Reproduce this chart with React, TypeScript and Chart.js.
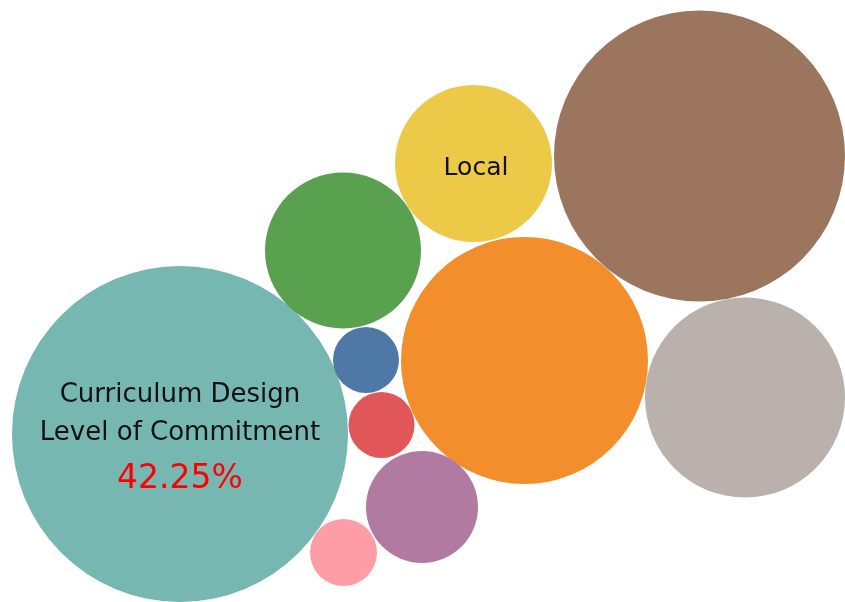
import React, { useEffect, useRef } from "react";
import { Chart, registerables } from "chart.js";

Chart.register(...registerables);

// Packed-bubble layout (Tableau style): one bubble per category
const categories = [
  "Curriculum Design",
  "Category B",
  "Category C",
  "Category D",
  "Local",
  "Category F",
  "Category G",
  "Category H",
  "Category I",
  "Category J",
];
const bubbleX = [180, 699.5, 524.5, 745, 473.5, 343, 422, 366, 381.5, 343.5];
const bubbleY = [434, 156, 360.5, 397.5, 163.5, 250.5, 507, 360, 425, 552.5];
const bubbleR = [168, 145.5, 123.5, 100, 78.5, 78, 56, 33, 33, 33.5];
const palette = [
  "#76B7B2",
  "#9C755F",
  "#F28E2B",
  "#BAB0AC",
  "#EDC948",
  "#59A14F",
  "#B07AA1",
  "#4E79A7",
  "#E15759",
  "#FF9DA7",
];
const labelLines: Record<string, string[]> = {
  "Curriculum Design": ["Curriculum Design", "Level of Commitment"],
  Local: ["Local"],
};
const highlightValue = "42.25%";

const labelPlugin = {
  id: "bubbleLabels",
  afterDatasetsDraw(chart: any) {
    const ctx = chart.ctx;
    const meta = chart.getDatasetMeta(0);
    ctx.save();
    ctx.textAlign = "center";
    ctx.textBaseline = "alphabetic";
    categories.forEach((cat, i) => {
      const lines = labelLines[cat];
      if (!lines) return;
      const el = meta.data[i];
      if (cat === "Local") {
        ctx.fillStyle = "#111111";
        ctx.font = "25px 'DejaVu Sans'";
        ctx.fillText(lines[0], el.x + 2.5, el.y + 11.5);
      } else {
        ctx.fillStyle = "#111111";
        ctx.font = "26px 'DejaVu Sans'";
        ctx.fillText(lines[0], el.x, el.y - 32);
        ctx.fillText(lines[1], el.x, el.y + 6);
        ctx.fillStyle = "#FF0000";
        ctx.font = "33px 'DejaVu Sans'";
        ctx.fillText(highlightValue, el.x, el.y + 54);
      }
    });
    ctx.restore();
  },
};

export default function App() {
  const ref = useRef<HTMLCanvasElement | null>(null);
  useEffect(() => {
    if (!ref.current) return;
    const chart = new Chart(ref.current, {
      type: "bubble",
      data: {
        datasets: [
          {
            label: "Bubbles",
            data: categories.map((_, i) => ({
              x: bubbleX[i],
              y: bubbleY[i],
              r: bubbleR[i],
            })),
            backgroundColor: palette,
            borderWidth: 0,
            hoverBorderWidth: 0,
            clip: false,
          } as any,
        ],
      },
      options: {
        responsive: false,
        animation: false,
        layout: { padding: 0, autoPadding: false },
        plugins: {
          legend: { display: false },
          tooltip: { enabled: false },
        },
        scales: {
          x: { type: "linear", display: false, min: 0, max: 845 },
          y: { type: "linear", display: false, min: 0, max: 602, reverse: true },
        },
      } as any,
      plugins: [labelPlugin],
    });
    return () => chart.destroy();
  }, []);
  return (
    <div style={{ position: "absolute", left: 0, top: 0, width: 845, height: 602, background: "#fff" }}>
      <canvas ref={ref} width={845} height={602} style={{ display: "block" }} />
    </div>
  );
}
